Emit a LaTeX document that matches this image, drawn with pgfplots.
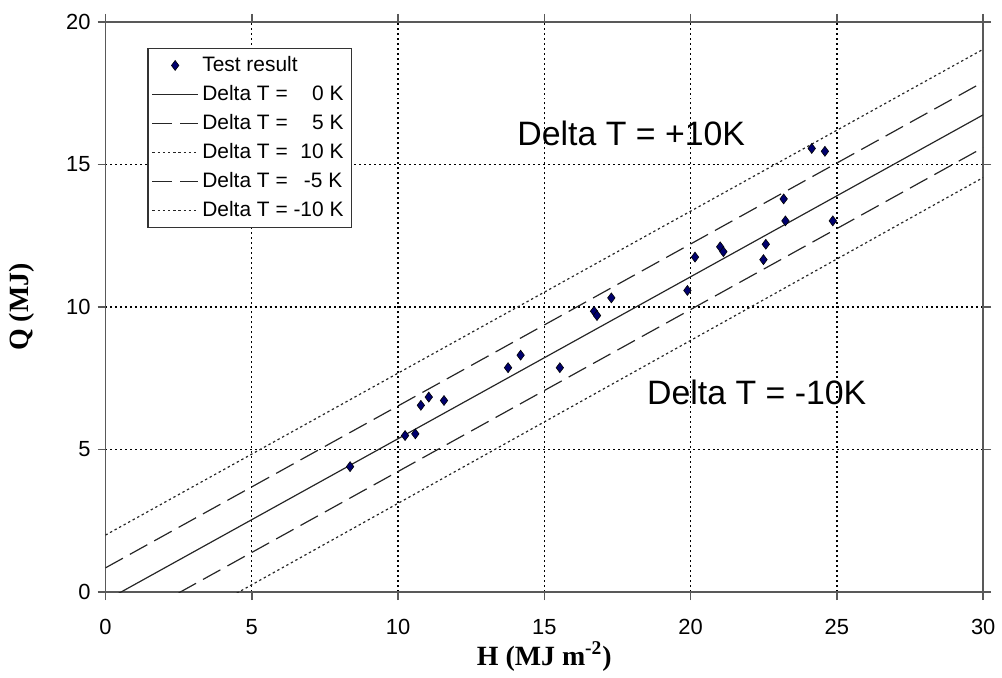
\documentclass[border=0pt]{standalone}
\usepackage{pgfplots}
\pgfplotsset{compat=1.18}
\usepackage{fontspec}
\setmainfont{Liberation Sans}
\newfontfamily\timesfont{Liberation Serif}
\definecolor{ptblue}{RGB}{0,0,110}
\begin{document}
\begin{tikzpicture}
\begin{axis}[
scale only axis,
width=441pt, height=286.5pt,
xmin=0, xmax=30, ymin=0, ymax=20,
xtick={0,5,...,30}, ytick={0,5,...,20},
grid=major,
grid style={black, dash pattern=on 1pt off 1.5pt, line width=0.7pt},
axis line style={gray!70!black, line width=0.8pt},
tick style={gray!70!black, line width=0.8pt},
tick align=outside, major tick length=4pt,
/pgf/number format/assume math mode=true,
ticklabel style={font=\fontsize{11}{13}\selectfont},
xticklabel style={yshift=-6pt},
xlabel={\timesfont\bfseries H (MJ m\textsuperscript{-2})},
ylabel={\timesfont\bfseries Q (MJ)},
label style={font=\fontsize{14}{16}\selectfont},
xlabel style={at={(axis description cs:0.5,-0.113)}, anchor=center},
ylabel style={at={(axis description cs:-0.095,0.5)}, anchor=center},
legend image code/.code={\draw[mark repeat=2,mark phase=2,#1] plot coordinates {(0cm,0cm) (0.4cm,0cm) (0.8cm,0cm)};},
legend style={at={(axis cs:1.43,19.09)}, anchor=north west, draw=black!80, line width=0.6pt,
  font=\fontsize{10.5}{12}\selectfont, inner sep=2pt, row sep=1.5pt, cells={anchor=west}},
]
\addplot[only marks, mark=diamond*, mark size=2.5pt, mark options={fill=ptblue, draw=black, line width=0.3pt}] coordinates {
(8.36,4.40) (10.24,5.49) (10.59,5.55) (10.78,6.55) (11.05,6.84) (11.57,6.72)
(13.76,7.87) (14.19,8.31) (15.53,7.87) (16.70,9.85) (16.80,9.70) (17.29,10.32)
(19.89,10.58) (20.15,11.75) (21.01,12.11) (21.12,11.94) (22.49,11.66) (22.57,12.20)
(23.18,13.79) (23.24,13.02) (24.14,15.56) (24.59,15.46) (24.86,13.02)
};
\addlegendentry{Test result}
\addplot[black!85, line width=0.6pt] coordinates {(0,-0.30) (30,16.74)};
\addlegendentry{Delta T = \phantom{-1}0 K}
\addplot[black!85, line width=0.6pt, dash pattern=on 10pt off 4pt] coordinates {(0,0.85) (30,17.89)};
\addlegendentry{Delta T = \phantom{-1}5 K}
\addplot[black!85, line width=0.6pt, dash pattern=on 1.2pt off 1.4pt] coordinates {(0,2.00) (30,19.04)};
\addlegendentry{Delta T = \phantom{-}10 K}
\addplot[black!85, line width=0.6pt, dash pattern=on 10pt off 4pt] coordinates {(0,-1.45) (30,15.59)};
\addlegendentry{Delta T = \phantom{-}\,-5 K}
\addplot[black!85, line width=0.6pt, dash pattern=on 1.2pt off 1.4pt] coordinates {(0,-2.60) (30,14.54)};
\addlegendentry{Delta T = -10 K}
\node[font=\fontsize{17}{20}\selectfont] at (axis cs:17.97,16.09) {Delta T = +10K};
\node[font=\fontsize{17}{20}\selectfont] at (axis cs:22.26,7.02) {Delta T = -10K};
\end{axis}
\path ([xshift=-53pt,yshift=11pt]current axis.north west) ([xshift=7pt,yshift=-43pt]current axis.south east);
\end{tikzpicture}
\end{document}
